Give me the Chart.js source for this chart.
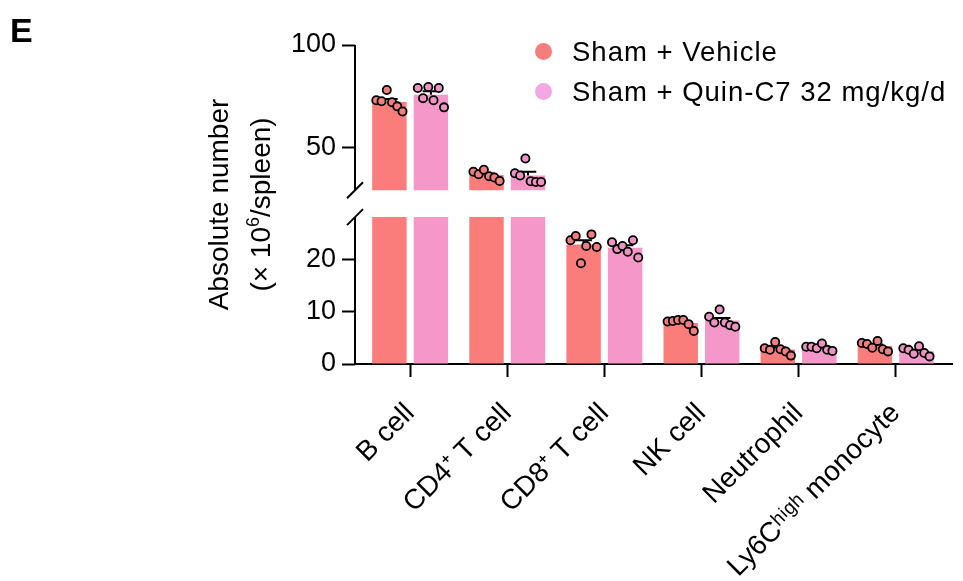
<!DOCTYPE html>
<html>
<head>
<meta charset="utf-8">
<title>Absolute number per spleen</title>
<script src="https://cdn.jsdelivr.net/npm/chart.js@4.4.1/dist/chart.umd.min.js"></script>
<style>
  html, body { margin: 0; padding: 0; background: #fff; }
  #wrap { position: relative; width: 963px; height: 581px; overflow: hidden;
          font-family: 'Liberation Sans', Arial, sans-serif; color: #000; }
  #chart { position: absolute; left: 0; top: 0; }
  .panel { position: absolute; left: 10px; top: 13px; font-size: 34px; font-weight: bold; line-height: 1; }
  .legend { position: absolute; left: 535px; top: 38px; }
  .leg-row { display: flex; align-items: center; height: 27px; margin-bottom: 13px;
             font-size: 27.5px; letter-spacing: 1px; line-height: 1; white-space: nowrap; }
  .leg-dot { width: 17px; height: 17px; border-radius: 50%; margin-right: 20px; }
</style>
</head>
<body>
<div id="wrap">
  <canvas id="chart" width="963" height="581"></canvas>
  <div class="panel">E</div>
  <div class="legend" id="legend"></div>
</div>
<script>
/* ---------- data (×10^6 cells / spleen) ---------- */
const cellTypes = ['B cell', 'CD4⁺ T cell', 'CD8⁺ T cell', 'NK cell', 'Neutrophil', 'Ly6Cʰⁱᵍʰ monocyte'];
const seriesNames = ['Sham + Vehicle', 'Sham + Quin-C7 32 mg/kg/d'];

// individual animals, listed left -> right as they sit on the bar
const vehicleDots = [
  [73, 72.5, 78, 72, 70, 67.5],
  [38, 36.8, 39, 35.8, 35.2, 33.5],
  [23.6, 24.4, 19.2, 22.5, 24.7, 22.3],
  [8.1, 8.2, 8.4, 8.4, 7.6, 6.3],
  [3.0, 2.7, 4.2, 2.8, 2.4, 1.6],
  [4.0, 3.8, 3.1, 4.4, 2.8, 2.4]
];
const quinDots = [
  [79, 74, 79.5, 73, 79, 69.5],
  [37.3, 36.2, 44.5, 33.4, 33, 33],
  [23.2, 21.9, 22.5, 21.4, 23.6, 20.3],
  [9.0, 7.9, 10.4, 7.9, 7.4, 7.1],
  [3.3, 3.3, 3.0, 3.9, 2.7, 2.5],
  [3.0, 2.7, 1.95, 3.4, 2.1, 1.45]
];

const upperTicks = [50, 100];
const lowerTicks = [0, 10, 20];
const LOWER_TOP = 28;     // lower axis segment runs 0..28
const UPPER_BOTTOM = 29;  // upper axis segment runs 29..100

/* ---------- look ---------- */
const FONT = "'Liberation Sans', Arial, sans-serif";
const COLORS = { veh: '#FA7D7B', quin: '#F597C8' };
const DOT_FILL = { veh: '#F07E7E', quin: '#EE94C4' };
const LEGEND_COLORS = ['#F57E7C', '#F2A8E2'];
const CAT_PCT = 0.855, BAR_PCT = 0.83;
const JITTER = 0.135, CAP = 0.085;

/* ---------- legend (html) ---------- */
document.getElementById('legend').innerHTML = seriesNames.map((name, i) =>
  `<div class="leg-row"><span class="leg-dot" style="background:${LEGEND_COLORS[i]}"></span>${name}</div>`
).join('');

/* ---------- helpers ---------- */
const mean = a => a.reduce((s, v) => s + v, 0) / a.length;
const sem = a => {
  const m = mean(a);
  return Math.sqrt(a.reduce((s, v) => s + (v - m) ** 2, 0) / (a.length - 1) / a.length);
};

function groupDatasets(dots, key, side){
  const means = dots.map(mean);
  const sems = dots.map(sem);
  const offset = side * CAT_PCT / 4;

  const bar = (yAxisID, data) => ({
    type: 'bar', stack: key, yAxisID, data, order: 3,
    backgroundColor: COLORS[key], borderWidth: 0,
    categoryPercentage: CAT_PCT, barPercentage: BAR_PCT
  });

  const points = (yAxisID, keep) => ({
    type: 'scatter', yAxisID, order: 1,
    data: dots.flatMap((arr, i) => arr.map((v, j) => ({
      x: i + offset + JITTER * (2 * j / (arr.length - 1) - 1), y: v
    }))).filter(p => keep(p.y)),
    pointRadius: 4.1, pointBorderWidth: 1.8,
    pointBackgroundColor: DOT_FILL[key], pointBorderColor: '#000', pointHoverRadius: 4.1
  });

  const errors = (yAxisID, keep) => ({
    type: 'line', yAxisID, order: 2, spanGaps: false,
    borderColor: '#000', borderWidth: 2, pointRadius: 0, fill: false,
    data: means.flatMap((m, i) => {
      if (!keep(m)) return [];
      const x = i + offset, top = m + sems[i];
      return [{ x, y: m }, { x, y: top }, { x: x - CAP, y: top }, { x: x + CAP, y: top }, { x, y: null }];
    })
  });

  return [
    bar('yLow', means.map((m, i) => ({ x: i, y: Math.min(m, LOWER_TOP) }))),
    bar('yHigh', means.map((m, i) => ({ x: i, y: m > UPPER_BOTTOM ? [UPPER_BOTTOM, m] : null }))),
    errors('yLow', m => m <= LOWER_TOP),
    errors('yHigh', m => m > LOWER_TOP),
    points('yLow', v => v <= LOWER_TOP),
    points('yHigh', v => v > LOWER_TOP)
  ];
}

/* ---------- broken y axis + title ---------- */
const brokenAxis = {
  id: 'brokenAxis',
  afterDraw(chart){
    const { ctx, chartArea: area, scales } = chart;
    const x = area.left;
    const hiTop = scales.yHigh.getPixelForValue(100);
    const hiBot = scales.yHigh.getPixelForValue(UPPER_BOTTOM);
    const loTop = scales.yLow.getPixelForValue(LOWER_TOP);
    const loBot = scales.yLow.getPixelForValue(0);

    ctx.save();
    ctx.strokeStyle = '#000';
    ctx.lineWidth = 2;
    ctx.beginPath();
    ctx.moveTo(x, hiTop); ctx.lineTo(x, hiBot);
    ctx.moveTo(x, loTop); ctx.lineTo(x, loBot);
    [hiBot, loTop].forEach(y => { ctx.moveTo(x - 8, y + 8); ctx.lineTo(x + 8, y - 8); });
    ctx.stroke();

    // y title, two lines, second one with a superscript
    ctx.fillStyle = '#000';
    ctx.translate(x - 127, (area.top + area.bottom) / 2);
    ctx.rotate(-Math.PI / 2);
    ctx.textBaseline = 'alphabetic';
    ctx.textAlign = 'center';
    ctx.font = `28px ${FONT}`;
    ctx.fillText('Absolute number', 0, 0);

    const parts = [['(× 10', false], ['6', true], ['/spleen)', false]];
    const widths = parts.map(([t, sup]) => { ctx.font = `${sup ? 18 : 28}px ${FONT}`; return ctx.measureText(t).width; });
    let cx = -widths.reduce((s, w) => s + w, 0) / 2;
    ctx.textAlign = 'left';
    parts.forEach(([t, sup], i) => {
      ctx.font = `${sup ? 18 : 28}px ${FONT}`;
      ctx.fillText(t, cx, sup ? 31 : 42);
      cx += widths[i];
    });
    ctx.restore();
  }
};

/* ---------- chart ---------- */
const tickFont = { family: FONT, size: 27 };
const tickGrid = { display: true, drawOnChartArea: false, drawTicks: true, tickLength: 13, tickWidth: 2, tickColor: '#000' };

new Chart(document.getElementById('chart'), {
  type: 'bar',
  data: {
    datasets: [
      ...groupDatasets(vehicleDots, 'veh', -1),
      ...groupDatasets(quinDots, 'quin', 1)
    ]
  },
  options: {
    responsive: false,
    animation: false,
    events: [],
    layout: { padding: { left: 255, top: 45, right: 11, bottom: 0 } },
    plugins: { legend: { display: false }, tooltip: { enabled: false } },
    scales: {
      x: {
        type: 'linear', min: -0.568, max: 5.58, offset: false,
        afterBuildTicks: axis => { axis.ticks = cellTypes.map((_, i) => ({ value: i })); },
        afterFit: s => { s.height = 217; },
        ticks: {
          autoSkip: false, minRotation: 45, maxRotation: 45, padding: 20,
          color: '#000', font: { family: FONT, size: 28 },
          callback: v => cellTypes[Math.round(v)]
        },
        grid: { ...tickGrid, offset: false },
        border: { display: true, color: '#000', width: 2 }
      },
      yHigh: {
        type: 'linear', position: 'left', stack: 'y', stackWeight: 1, weight: 2,
        min: 22, max: 100, stacked: false,
        afterBuildTicks: axis => { axis.ticks = upperTicks.map(v => ({ value: v })); },
        afterFit: s => { s.width = 100; },
        ticks: { color: '#000', font: tickFont, padding: 6 },
        grid: tickGrid,
        border: { display: false }
      },
      yLow: {
        type: 'linear', position: 'left', stack: 'y', stackWeight: 1, weight: 1,
        min: 0, max: 30.4, stacked: false,
        afterBuildTicks: axis => { axis.ticks = lowerTicks.map(v => ({ value: v })); },
        afterFit: s => { s.width = 100; },
        ticks: { color: '#000', font: tickFont, padding: 6 },
        grid: tickGrid,
        border: { display: false }
      }
    }
  },
  plugins: [brokenAxis]
});
</script>
</body>
</html>
